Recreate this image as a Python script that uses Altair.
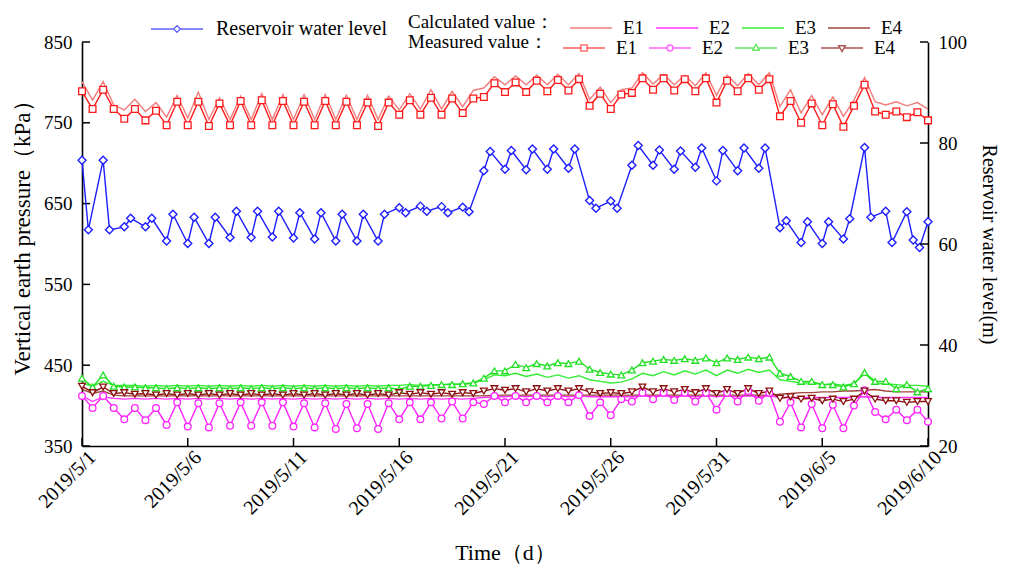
import altair as alt
import pandas as pd

FONT = "Liberation Serif"
W, H = 846, 404
SER = ["E1", "E2", "E3", "E4"]

# measurement times: twice a day, days after 2019/5/1
meas_days = [i * 0.5 for i in range(81)]

meas_E1 = [789, 767, 791, 767, 755, 767, 753, 765, 747, 776, 747, 776, 746, 774, 747, 777, 747, 778, 747, 777,
           747, 776, 747, 777, 747, 776, 747, 775, 746, 775, 760, 778, 760, 781, 760, 780, 762, 780, 782, 799,
           788, 800, 788, 802, 789, 803, 790, 804, 771, 786, 767, 785, 787, 805, 791, 805, 790, 804, 789, 805,
           775, 802, 789, 805, 791, 804, 758, 777, 750, 774, 747, 773, 745, 771, 797, 764, 760, 764, 757, 763, 753]
meas_E2 = [412, 397, 412, 397, 383, 397, 382, 397, 376, 404, 374, 403, 373, 403, 375, 404, 375, 404, 375, 404,
           374, 403, 373, 403, 371, 402, 372, 402, 371, 403, 383, 404, 383, 404, 384, 405, 384, 404, 402, 412,
           404, 412, 404, 412, 404, 412, 404, 413, 387, 404, 388, 408, 405, 416, 408, 416, 407, 416, 405, 416,
           395, 416, 405, 418, 406, 416, 380, 404, 373, 402, 372, 401, 372, 400, 419, 392, 383, 395, 382, 395, 380]
meas_E3 = [434, 423, 438, 424, 423, 423, 422, 422, 421, 422, 421, 422, 421, 422, 421, 422, 421, 422, 421, 422,
           421, 422, 421, 422, 421, 422, 421, 422, 421, 422, 420, 424, 424, 425, 426, 426, 427, 428, 434, 443,
           443, 451, 447, 452, 449, 453, 452, 455, 445, 441, 439, 438, 444, 453, 455, 457, 456, 458, 456, 459,
           453, 459, 457, 460, 458, 460, 440, 436, 430, 430, 426, 426, 423, 427, 441, 430, 430, 421, 426, 417, 421]
meas_E4 = [424, 416, 423, 415, 416, 414, 415, 413, 415, 413, 415, 413, 415, 413, 415, 413, 415, 413, 415, 413,
           415, 413, 415, 413, 415, 413, 415, 413, 415, 413, 416, 414, 416, 414, 416, 414, 416, 415, 418, 421,
           419, 421, 417, 421, 418, 421, 418, 421, 417, 415, 416, 415, 417, 423, 417, 421, 417, 420, 416, 421,
           415, 420, 415, 421, 415, 418, 409, 411, 408, 409, 406, 408, 405, 408, 418, 408, 406, 406, 404, 405, 405]

calc_E1 = [801, 778, 801, 772, 766, 779, 764, 775, 757, 784, 756, 788, 754, 781, 754, 783, 754, 786, 754, 785,
           754, 785, 754, 785, 754, 784, 754, 784, 754, 783, 766, 786, 767, 791, 767, 789, 770, 790, 793, 807,
           797, 808, 797, 809, 797, 810, 797, 811, 779, 794, 775, 791, 793, 812, 798, 810, 797, 809, 796, 812,
           784, 809, 796, 811, 797, 812, 770, 791, 762, 784, 760, 782, 758, 778, 806, 776, 772, 776, 771, 775, 767]
calc_E2 = [412, 405, 411, 409, 408, 409, 408, 409, 408, 409, 408, 409, 408, 409, 408, 409, 408, 409, 408, 409,
           408, 409, 408, 409, 408, 409, 408, 409, 408, 409, 408, 409, 408, 409, 408, 409, 408, 409, 410, 411,
           411, 412, 411, 412, 411, 412, 411, 412, 411, 411, 411, 411, 411, 412, 411, 412, 411, 412, 411, 412,
           411, 412, 411, 412, 411, 412, 410, 410, 410, 410, 410, 410, 410, 410, 411, 410, 410, 410, 410, 410, 410]
calc_E3 = [428, 424, 430, 425, 425, 425, 424, 425, 424, 425, 424, 425, 424, 425, 424, 425, 424, 425, 424, 425,
           424, 425, 424, 425, 424, 425, 424, 425, 424, 425, 425, 426, 425, 426, 426, 427, 426, 428, 432, 438,
           437, 440, 436, 439, 435, 438, 434, 437, 432, 430, 428, 429, 433, 440, 437, 442, 438, 443, 439, 444,
           437, 444, 440, 445, 441, 444, 432, 430, 428, 428, 426, 427, 425, 427, 440, 428, 427, 426, 425, 425, 424]
calc_E4 = [420, 415, 418, 413, 412, 412, 412, 412, 412, 412, 412, 412, 412, 412, 412, 412, 412, 412, 412, 412,
           412, 412, 412, 412, 412, 412, 412, 412, 412, 412, 412, 412, 412, 412, 412, 412, 412, 412, 412, 413,
           413, 413, 413, 413, 413, 413, 413, 413, 413, 413, 413, 413, 413, 413, 413, 413, 413, 413, 413, 413,
           413, 413, 413, 413, 413, 413, 414, 415, 416, 416, 417, 417, 418, 418, 419, 420, 418, 417, 417, 417, 417]

# reservoir water level
wl_days = [0, 0.3, 1, 1.3, 2, 2.3, 3, 3.3, 4, 4.3, 5, 5.3, 6, 6.3, 7, 7.3, 8, 8.3, 9, 9.3,
           10, 10.3, 11, 11.3, 12, 12.3, 13, 13.3, 14, 14.3, 15, 15.3, 16, 16.3, 17, 17.3, 18, 18.3, 19, 19.3,
           20, 20.3, 21, 21.3, 22, 22.3, 23, 23.3, 24, 24.3, 25, 25.3, 26, 26.3, 27, 27.3, 28, 28.3, 29, 29.3,
           30, 30.3, 31, 31.3, 32, 32.3, 33, 33.3, 34, 34.3, 35, 35.3, 36, 36.3, 37, 37.3, 38, 38.3, 39, 39.3,
           39.6, 40]
wl_level = [76.6, 62.8, 76.6, 62.8, 63.4, 65.1, 63.4, 65.1, 60.6, 65.9, 60.1, 65.3, 60.1, 65.3, 61.3, 66.5, 61.3, 66.5, 61.4, 66.5,
            61.2, 66.2, 61.0, 66.2, 60.6, 65.9, 60.6, 65.9, 60.6, 65.9, 67.2, 66.2, 67.5, 66.5, 67.4, 66.2, 67.3, 66.4, 74.5, 78.3,
            74.8, 78.5, 74.7, 78.8, 74.8, 78.8, 75.0, 78.8, 68.6, 67.1, 68.5, 67.1, 75.6, 79.5, 75.6, 78.6, 74.8, 78.4, 75.2, 79.0,
            72.5, 78.5, 74.5, 79.0, 75.0, 79.0, 63.2, 64.6, 60.3, 64.4, 60.1, 64.4, 61.0, 65.0, 79.1, 65.3, 66.5, 60.3, 66.4, 60.8,
            59.3, 64.4]

left_ticks = [350, 450, 550, 650, 750, 850]
right_ticks = [20, 40, 60, 80, 100]
x_tick_days = [0, 5, 10, 15, 20, 25, 30, 35, 40]

calc_colors = ["#F27C7C", "#FF33FF", "#33EE33", "#A0453F"]
meas_colors = ["#FF1A1A", "#FF22FF", "#22E022", "#8B1010"]
wl_color = "#1E1EFF"
marker_shapes = ["square", "circle", "triangle-up", "triangle-down"]
legend_paths = [
    "M-1,0H-0.15M0.15,0H1M-0.15,-0.15H0.15V0.15H-0.15Z",
    "M-1,0H-0.14M0.14,0H1M0.14,0A0.14,0.14 0 1,1 -0.14,0A0.14,0.14 0 1,1 0.14,0Z",
    "M-1,0H-0.09M0.09,0H1M0,-0.17L0.16,0.11L-0.16,0.11Z",
    "M-1,0H-0.09M0.09,0H1M0,0.17L0.16,-0.11L-0.16,-0.11Z",
]
wl_legend_path = "M-1,0H-0.13M0.13,0H1M-0.13,0L0,-0.13L0.13,0L0,0.13Z"


def to_time(days):
    base = pd.Timestamp("2019-05-01 00:00:00")
    return [base + pd.Timedelta(days=d) for d in days]


t_meas = to_time(meas_days)
meas = pd.DataFrame({
    "t": t_meas * 4,
    "series": sum([[s] * len(meas_days) for s in SER], []),
    "value": meas_E1 + meas_E2 + meas_E3 + meas_E4,
})
calc = pd.DataFrame({
    "t": t_meas * 4,
    "series": sum([[s] * len(meas_days) for s in SER], []),
    "value": calc_E1 + calc_E2 + calc_E3 + calc_E4,
})
wl = pd.DataFrame({"t": to_time(wl_days), "level": wl_level, "name": "Reservoir water level"})
lt = pd.DataFrame({"value": left_ticks})
rt = pd.DataFrame({"level": right_ticks})
xt = pd.DataFrame({"t": to_time(x_tick_days)})

x_axis = alt.Axis(
    values=[alt.DateTime(year=2019, month=5, date=1), alt.DateTime(year=2019, month=5, date=6),
            alt.DateTime(year=2019, month=5, date=11), alt.DateTime(year=2019, month=5, date=16),
            alt.DateTime(year=2019, month=5, date=21), alt.DateTime(year=2019, month=5, date=26),
            alt.DateTime(year=2019, month=5, date=31), alt.DateTime(year=2019, month=6, date=5),
            alt.DateTime(year=2019, month=6, date=10)],
    format="%Y/%-m/%-d", labelAngle=-45, labelAlign="right", labelBaseline="middle",
    labelFont=FONT, labelFontSize=20, labelColor="black", labelPadding=8, labelOffset=10,
    ticks=False, grid=False, domainColor="black", domainWidth=1.6,
    title="Time（d）", titleFont=FONT, titleFontSize=22, titleFontWeight="normal",
    titleColor="black", titlePadding=24,
)
x_enc = alt.X("t:T", scale=alt.Scale(domain=[alt.DateTime(year=2019, month=5, date=1),
                                             alt.DateTime(year=2019, month=6, date=10)]),
              axis=x_axis)

y_left = alt.Y("value:Q", scale=alt.Scale(domain=[350, 850], nice=False, zero=False),
               axis=alt.Axis(values=left_ticks, format="d", ticks=False, grid=False,
                             domainColor="black", domainWidth=1.6,
                             labelFont=FONT, labelFontSize=19, labelColor="black", labelPadding=10,
                             title="Vertical earth pressure（kPa）", titleFont=FONT, titleFontSize=23,
                             titleFontWeight="normal", titleColor="black", titlePadding=9,
                             titleY=190))
y_right = alt.Y("level:Q", scale=alt.Scale(domain=[20, 100], nice=False, zero=False),
                axis=alt.Axis(orient="right", values=right_ticks, format="d", ticks=False, grid=False,
                              domainColor="black", domainWidth=1.6,
                              labelFont=FONT, labelFontSize=19, labelColor="black", labelPadding=10,
                              title="Reservoir water level(m)", titleFont=FONT, titleFontSize=20,
                              titleFontWeight="normal", titleColor="black", titlePadding=12))

leg_common = dict(orient="none", direction="horizontal", titleOrient="left",
                  labelFont=FONT, labelFontSize=19, labelColor="black", labelOffset=10,
                  titleFont=FONT, titleFontSize=19, titleFontWeight="normal", titleColor="black",
                  titlePadding=14, columnPadding=8, symbolSize=1764, symbolStrokeWidth=1.4)

calc_lines = alt.Chart(calc).mark_line(strokeWidth=1.4).encode(
    x=x_enc, y=y_left,
    color=alt.Color("series:N", scale=alt.Scale(domain=SER, range=calc_colors),
                    legend=alt.Legend(title="Calculated value：", legendX=326, legendY=-36,
                                      symbolType="stroke", **leg_common)),
)
meas_lines = alt.Chart(meas).mark_line(strokeWidth=1.4).encode(
    x=x_enc, y=y_left,
    color=alt.Color("series:N", scale=alt.Scale(domain=SER, range=meas_colors), legend=None),
)
meas_pts = alt.Chart(meas).mark_point(filled=False, fill="white", fillOpacity=1, strokeWidth=1.3,
                                      size=45, opacity=1).encode(
    x=x_enc, y=y_left,
    color=alt.Color("series:N", scale=alt.Scale(domain=SER, range=meas_colors), legend=None),
    shape=alt.Shape("series:N", scale=alt.Scale(domain=SER, range=marker_shapes), legend=None),
)
meas_leg_def = dict(title="Measured value：", legendX=326, legendY=-16, **leg_common)
meas_leg = alt.Chart(meas).transform_filter("false").mark_point(filled=False, strokeWidth=1.4).encode(
    x=x_enc, y=y_left,
    color=alt.Color("series:N", scale=alt.Scale(domain=SER, range=meas_colors),
                    legend=alt.Legend(**meas_leg_def)),
    shape=alt.Shape("series:N", scale=alt.Scale(domain=SER, range=legend_paths),
                    legend=alt.Legend(**meas_leg_def)),
)
lt_rules = alt.Chart(lt).mark_rule(color="black", strokeWidth=1.5).encode(
    y=y_left, x=alt.value(0), x2=alt.value(8))
xt_rules = alt.Chart(xt).mark_rule(color="black", strokeWidth=1.5).encode(
    x=x_enc, y=alt.value(H), y2=alt.value(H - 8))

left = alt.layer(calc_lines, meas_lines, meas_pts, meas_leg, lt_rules, xt_rules).resolve_scale(
    color="independent", shape="independent")

wl_line = alt.Chart(wl).mark_line(strokeWidth=1.4, color=wl_color).encode(x=x_enc, y=y_right)
wl_pts = alt.Chart(wl).mark_point(shape="diamond", filled=False, fill="white", fillOpacity=1,
                                  strokeWidth=1.4, size=64, color=wl_color, opacity=1).encode(
    x=x_enc, y=y_right)
wl_leg_def = dict(title=None, orient="none", legendX=68, legendY=-40, direction="horizontal",
                  labelFont=FONT, labelFontSize=20, labelColor="black", labelOffset=12, labelLimit=400,
                  symbolSize=2704, symbolStrokeWidth=1.4)
wl_leg = alt.Chart(wl).transform_filter("false").mark_point(filled=False, strokeWidth=1.4).encode(
    x=x_enc, y=y_right,
    color=alt.Color("name:N", scale=alt.Scale(domain=["Reservoir water level"], range=[wl_color]),
                    legend=alt.Legend(**wl_leg_def)),
    shape=alt.Shape("name:N", scale=alt.Scale(domain=["Reservoir water level"], range=[wl_legend_path]),
                    legend=alt.Legend(**wl_leg_def)),
)
rt_rules = alt.Chart(rt).mark_rule(color="black", strokeWidth=1.5).encode(
    y=y_right, x=alt.value(W - 8), x2=alt.value(W))

right = alt.layer(wl_line, wl_pts, wl_leg, rt_rules)

chart = alt.layer(left, right).resolve_scale(
    y="independent", color="independent", shape="independent"
).properties(
    width=W, height=H, autosize=alt.AutoSizeParams(type="none"),
    padding={"left": 82, "top": 42, "right": 81, "bottom": 123}, background="white",
).configure_view(stroke=None)

chart.save("out.html", embed_options={"renderer": "svg", "actions": False})
